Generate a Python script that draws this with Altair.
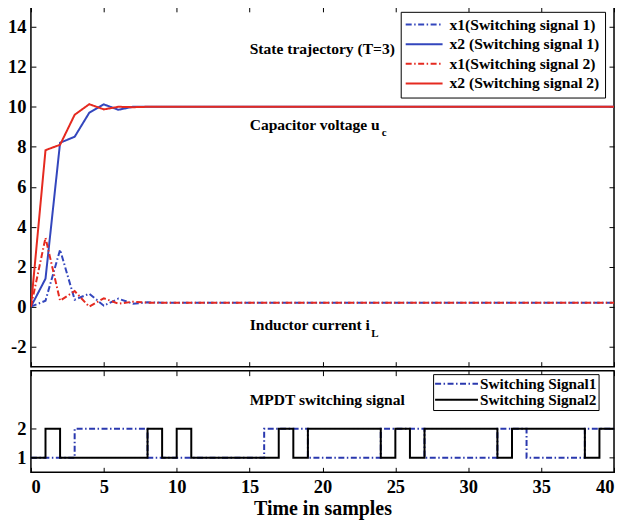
import altair as alt
import pandas as pd

FONT = "Liberation Serif"

# ---------------- data ----------------
t = list(range(41))

x1_sig1 = [0.0, 0.3, 2.85, 0.35, 0.65, 0.05, 0.4, 0.15, 0.22, 0.2,
           0.2, 0.2, 0.2, 0.2, 0.2, 0.2, 0.2, 0.2, 0.2, 0.2,
           0.2, 0.2, 0.2, 0.2, 0.2, 0.2, 0.2, 0.2, 0.2, 0.2,
           0.2, 0.2, 0.2, 0.2, 0.2, 0.2, 0.2, 0.2, 0.2, 0.2, 0.2]
x2_sig1 = [0.0, 1.4, 8.2, 8.5, 9.7, 10.12, 9.85, 10.0, 10.0, 10.0,
           10.0, 10.0, 10.0, 10.0, 10.0, 10.0, 10.0, 10.0, 10.0, 10.0,
           10.0, 10.0, 10.0, 10.0, 10.0, 10.0, 10.0, 10.0, 10.0, 10.0,
           10.0, 10.0, 10.0, 10.0, 10.0, 10.0, 10.0, 10.0, 10.0, 10.0, 10.0]
x1_sig2 = [0.0, 3.45, 0.3, 0.78, 0.0, 0.42, 0.15, 0.25, 0.2, 0.2,
           0.2, 0.2, 0.2, 0.2, 0.2, 0.2, 0.2, 0.2, 0.2, 0.2,
           0.2, 0.2, 0.2, 0.2, 0.2, 0.2, 0.2, 0.2, 0.2, 0.2,
           0.2, 0.2, 0.2, 0.2, 0.2, 0.2, 0.2, 0.2, 0.2, 0.2, 0.2]
x2_sig2 = [0.0, 7.83, 8.1, 9.6, 10.13, 9.87, 10.0, 9.98, 10.0, 10.0,
           10.0, 10.0, 10.0, 10.0, 10.0, 10.0, 10.0, 10.0, 10.0, 10.0,
           10.0, 10.0, 10.0, 10.0, 10.0, 10.0, 10.0, 10.0, 10.0, 10.0,
           10.0, 10.0, 10.0, 10.0, 10.0, 10.0, 10.0, 10.0, 10.0, 10.0, 10.0]

top_names = ["x1(Switching signal 1)", "x2 (Switching signal 1)",
             "x1(Switching signal 2)", "x2 (Switching signal 2)"]
top_colors = ["#3346BD", "#3346BD", "#E52A20", "#E52A20"]
DASHDOT = [6, 2.5, 1.5, 2.5]
SOLID = [1, 0]
top_dashes = [DASHDOT, SOLID, DASHDOT, SOLID]

sw1 = [1, 1, 1, 2, 2, 2, 2, 2, 1, 1,
       1, 1, 1, 1, 1, 1, 2, 2, 2, 1,
       1, 1, 1, 1, 2, 2, 2, 1, 1, 1,
       1, 1, 2, 2, 1, 1, 1, 1, 2, 2, 2]
sw2 = [1, 2, 1, 1, 1, 1, 1, 1, 2, 1,
       2, 1, 1, 1, 1, 1, 1, 2, 1, 2,
       2, 2, 2, 2, 1, 2, 1, 2, 2, 2,
       2, 2, 1, 2, 2, 2, 2, 2, 1, 2, 2]
bot_names = ["Switching Signal1", "Switching Signal2"]
bot_colors = ["#2A38AE", "#000000"]
bot_dashes = [DASHDOT, SOLID]

x_ticks = [0, 5, 10, 15, 20, 25, 30, 35, 40]
y_ticks_top = [-2, 0, 2, 4, 6, 8, 10, 12, 14]
y_ticks_bot = [1, 2]

top_rows = []
for name, vals in zip(top_names, [x1_sig1, x2_sig1, x1_sig2, x2_sig2]):
    for ti, v in zip(t, vals):
        top_rows.append({"t": ti, "value": v, "series": name})
top_df = pd.DataFrame(top_rows)

bot_rows = []
for name, vals in zip(bot_names, [sw1, sw2]):
    for ti, v in zip(t, vals):
        bot_rows.append({"t": ti, "value": v, "series": name})
bot_df = pd.DataFrame(bot_rows)

# ---------------- helpers ----------------
W = 585
H_TOP = 361
H_BOT = 102
LBL = 18.5
TXT = 15.6


def ax(orient, values, labels, title=None, label_expr=None):
    kw = dict(orient=orient, values=values, tickSize=5, offset=-5, domain=False,
              grid=False, labels=labels, tickColor="black", tickWidth=1,
              labelFont=FONT, labelFontSize=LBL, labelFontWeight="bold",
              labelColor="black", labelPadding=5, title=title)
    if label_expr:
        kw["labelExpr"] = label_expr
    if title:
        kw.update(titleFont=FONT, titleFontSize=20, titleFontWeight="bold",
                  titleColor="black", titlePadding=3)
    return alt.Axis(**kw)


def text(txt, x, y, size=TXT):
    return alt.Chart(alt.Data(values=[{}])).mark_text(
        text=txt, align="left", baseline="alphabetic", font=FONT,
        fontWeight=700, fontSize=size, color="black"
    ).encode(x=alt.value(x), y=alt.value(y))


def legend(x, y, path, sym_off, lab_off, fs, pad, row_pad):
    return alt.Legend(title=None, orient="none", legendX=x, legendY=y,
                      symbolType=path, symbolSize=64, symbolStrokeWidth=2,
                      symbolOffset=sym_off, labelOffset=lab_off,
                      labelFont=FONT, labelFontSize=fs, labelFontWeight="bold",
                      labelColor="black", labelLimit=400,
                      strokeColor="black", fillColor="white", padding=pad,
                      rowPadding=row_pad, cornerRadius=0)


# ---------------- top panel ----------------
xs_top = alt.Scale(domain=[0, 40], nice=False, zero=False)
ys_top = alt.Scale(domain=[-3, 15], nice=False, zero=False)
leg_top = legend(371, 5, "M-4.625,0H4.625", 10.7, 17.7, 15.6, 5, 2.7)

top_lines = alt.Chart(top_df).mark_line(strokeWidth=2, clip=True).encode(
    x=alt.X("t:Q", scale=xs_top, axis=ax("bottom", x_ticks, False)),
    y=alt.Y("value:Q", scale=ys_top,
            axis=ax("left", y_ticks_top, True, label_expr="'' + datum.value")),
    color=alt.Color("series:N", scale=alt.Scale(domain=top_names, range=top_colors),
                    legend=leg_top),
    strokeDash=alt.StrokeDash("series:N", scale=alt.Scale(domain=top_names, range=top_dashes),
                              legend=leg_top),
    order=alt.Order("t:Q"),
)
top_mirror = alt.Chart(top_df).mark_point(opacity=0).encode(
    x=alt.X("t:Q", scale=xs_top, axis=ax("top", x_ticks, False)),
    y=alt.Y("value:Q", scale=ys_top, axis=ax("right", y_ticks_top, False)),
)
top = alt.layer(
    top_lines, top_mirror,
    text("State trajectory (T=3)", 219.5, 47.3),
    text("Capacitor voltage u", 219.5, 124),
    text("c", 352, 130, 11),
    text("Inductor current i", 219.5, 324),
    text("L", 341.5, 331, 11),
).properties(width=W, height=H_TOP)

# ---------------- bottom panel ----------------
xs_bot = alt.Scale(domain=[0, 40], nice=False, zero=False)
ys_bot = alt.Scale(domain=[0.5, 4], nice=False, zero=False)
leg_bot = legend(403.5, 3.5, "M-5.375,0H5.375", 13.85, 15.85, 15.3, 2, -1.5)

bot_lines = alt.Chart(bot_df).mark_line(strokeWidth=2, interpolate="step-after").encode(
    x=alt.X("t:Q", scale=xs_bot,
            axis=ax("bottom", x_ticks, True, title="Time in samples")),
    y=alt.Y("value:Q", scale=ys_bot, axis=ax("left", y_ticks_bot, True)),
    color=alt.Color("series:N", scale=alt.Scale(domain=bot_names, range=bot_colors),
                    legend=leg_bot),
    strokeDash=alt.StrokeDash("series:N", scale=alt.Scale(domain=bot_names, range=bot_dashes),
                              legend=leg_bot),
    order=alt.Order("t:Q"),
)
bot_mirror = alt.Chart(bot_df).mark_point(opacity=0).encode(
    x=alt.X("t:Q", scale=xs_bot, axis=ax("top", x_ticks, False)),
    y=alt.Y("value:Q", scale=ys_bot, axis=ax("right", y_ticks_bot, False)),
)
bottom = alt.layer(
    bot_lines, bot_mirror,
    text("MPDT switching signal", 219.5, 34.7),
).properties(width=W, height=H_BOT)

chart = alt.vconcat(top, bottom, spacing=0).resolve_scale(
    color="independent", strokeDash="independent"
).resolve_legend(
    color="independent", strokeDash="independent"
).configure_view(
    stroke="black", strokeWidth=1.5
).properties(
    padding={"left": -2, "top": -4, "right": 0, "bottom": 0}, background="white"
)

chart.save("out.html", embed_options={"renderer": "svg", "actions": False})
